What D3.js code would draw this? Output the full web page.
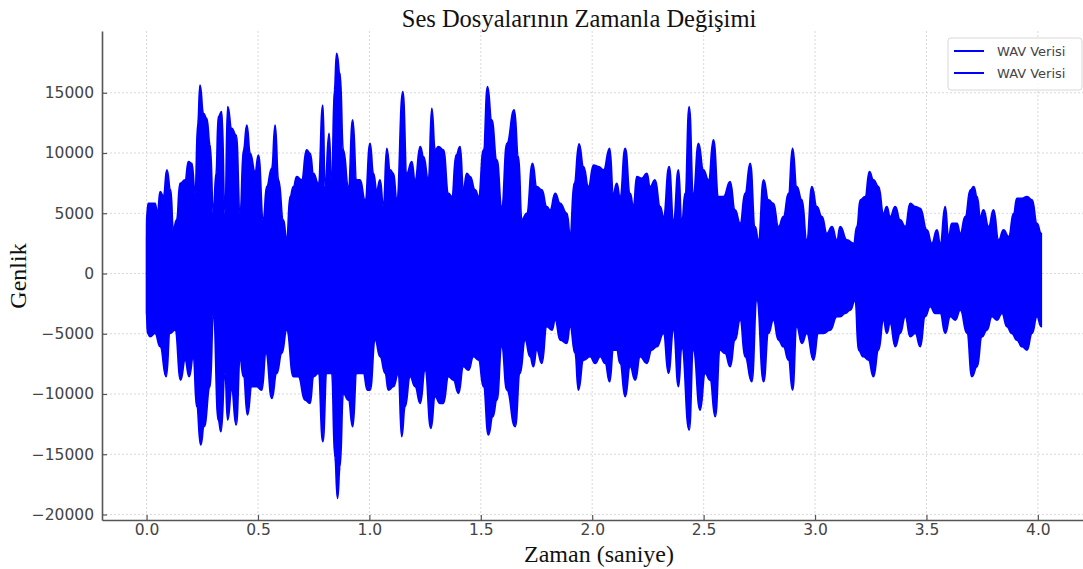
<!DOCTYPE html>
<html>
<head>
<meta charset="utf-8">
<script src="https://cdn.jsdelivr.net/npm/d3@7"></script>
<style>
  body { margin: 0; background: #fff; }
  svg { display: block; }
</style>
</head>
<body>
<svg width="1083" height="569"></svg>
<script>
// upper envelope of the waveform: [time (s), amplitude]
let upperEnv = [
  [0.000, 3060], [0.001, 5000], [0.008, 5820], [0.016, 5820], [0.038, 5820], [0.049, 5000],
  [0.061, 6790], [0.076, 6380], [0.091, 8590], [0.108, 6930], [0.120, 3610], [0.135, 4440],
  [0.150, 7480], [0.173, 7760], [0.188, 9280], [0.203, 9140], [0.218, 6650], [0.230, 12460],
  [0.240, 15640], [0.255, 13290], [0.270, 12880], [0.285, 10660], [0.300, 4990], [0.312, 8310],
  [0.322, 13010], [0.337, 13430], [0.352, 4990], [0.364, 13840], [0.382, 12040], [0.402, 11490],
  [0.420, 4990], [0.435, 10250], [0.450, 12320], [0.465, 9970], [0.487, 8450], [0.502, 9830],
  [0.524, 4440], [0.539, 7210], [0.562, 8730], [0.577, 12320], [0.592, 7760], [0.614, 4440],
  [0.629, 2780], [0.644, 6380], [0.659, 7210], [0.674, 8040], [0.696, 7760], [0.718, 10250],
  [0.734, 9970], [0.749, 8310], [0.771, 7480], [0.791, 13980], [0.801, 7210], [0.819, 11630],
  [0.831, 7210], [0.843, 15230], [0.853, 18270], [0.868, 16610], [0.883, 10250], [0.906, 7210],
  [0.925, 12740], [0.943, 7760], [0.958, 7760], [0.981, 6100], [1.003, 10800],
  [1.018, 8310], [1.033, 6930], [1.048, 7760], [1.063, 5550], [1.078, 10390], [1.093, 8590],
  [1.108, 8310], [1.123, 6100], [1.150, 15090], [1.168, 8310], [1.190, 9280], [1.205, 7760],
  [1.228, 10530], [1.243, 9700], [1.265, 7760], [1.280, 13710], [1.295, 10250], [1.310, 10530],
  [1.332, 10250], [1.355, 6650], [1.370, 6380], [1.389, 9830], [1.407, 10530], [1.422, 6930],
  [1.437, 8310], [1.452, 8040], [1.475, 6930], [1.490, 6380], [1.512, 10250], [1.530, 15500],
  [1.549, 12740], [1.572, 9420], [1.594, 5550], [1.617, 10800], [1.650, 13570], [1.669, 9700],
  [1.684, 4440], [1.706, 4990], [1.732, 9140], [1.751, 7210], [1.774, 6930], [1.796, 5550],
  [1.811, 5270], [1.834, 6650], [1.856, 5820], [1.886, 4990], [1.901, 3330], [1.919, 7480],
  [1.941, 10750], [1.961, 8870], [1.983, 7210], [2.006, 9000], [2.028, 8870], [2.051, 8590],
  [2.078, 10390], [2.095, 6650], [2.110, 7480], [2.125, 6380], [2.148, 10390], [2.170, 6650],
  [2.185, 5550], [2.200, 8040], [2.222, 7900], [2.245, 8310], [2.260, 7210], [2.282, 7760],
  [2.305, 5550], [2.320, 4720], [2.345, 8870], [2.365, 4440], [2.387, 8590], [2.402, 4160],
  [2.417, 6650], [2.435, 13840], [2.454, 6650], [2.477, 10800], [2.499, 8590], [2.522, 7760],
  [2.544, 11080], [2.567, 6380], [2.589, 6380], [2.619, 7620], [2.641, 5270], [2.664, 4160],
  [2.686, 6650], [2.709, 9140], [2.731, 3890], [2.746, 2780], [2.769, 7760], [2.791, 6100],
  [2.813, 5820], [2.836, 3890], [2.858, 4720], [2.881, 6650], [2.899, 10390], [2.918, 7210],
  [2.941, 6100], [2.963, 2780], [2.986, 7210], [3.008, 5550], [3.031, 4720], [3.053, 3330],
  [3.076, 3890], [3.098, 2780], [3.113, 3890], [3.143, 2780], [3.173, 2500], [3.188, 3890],
  [3.203, 6100], [3.225, 6380], [3.244, 8450], [3.262, 7760], [3.285, 7210], [3.307, 4990],
  [3.322, 5550], [3.337, 4720], [3.360, 5550], [3.382, 4440], [3.405, 3890], [3.427, 5820],
  [3.450, 5550], [3.472, 5410], [3.502, 3610], [3.524, 2500], [3.547, 3610], [3.562, 2500],
  [3.584, 5550], [3.599, 3060], [3.614, 4160], [3.637, 4160], [3.652, 3330], [3.674, 4720],
  [3.697, 6930], [3.712, 7210], [3.727, 6380], [3.742, 4720], [3.756, 5270], [3.779, 3890],
  [3.801, 5270], [3.824, 2780], [3.846, 3610], [3.869, 3060], [3.891, 4990], [3.906, 6240],
  [3.929, 6240], [3.951, 6380], [3.974, 6100], [3.996, 4160], [4.015, 3330]
];

// lower envelope of the waveform: [time (s), amplitude]
let lowerEnv = [
  [0.000, -3300], [0.004, -4960], [0.016, -5240], [0.038, -4960], [0.061, -6070], [0.088, -8560],
  [0.105, -4960], [0.128, -4690], [0.153, -8840], [0.173, -7180], [0.191, -8560], [0.210, -6900],
  [0.225, -11050], [0.243, -14230], [0.258, -12710], [0.285, -9390], [0.300, -3300], [0.322, -12160],
  [0.334, -13130], [0.352, -8280], [0.364, -12160], [0.382, -9670], [0.402, -12570], [0.420, -7180],
  [0.435, -8560], [0.453, -11740], [0.472, -9390], [0.494, -9390], [0.517, -9670], [0.536, -6620],
  [0.562, -10360], [0.584, -8280], [0.607, -6620], [0.629, -4690], [0.659, -8560], [0.681, -8560],
  [0.711, -10500], [0.734, -10770], [0.749, -8560], [0.771, -8280], [0.791, -13950], [0.809, -8280],
  [0.831, -8280], [0.845, -15200], [0.857, -18660], [0.868, -16030], [0.883, -9940], [0.906, -10500],
  [0.925, -12710], [0.943, -8280], [0.973, -8280], [0.991, -9670], [1.003, -9670], [1.026, -5520],
  [1.048, -6900], [1.071, -8280], [1.085, -9670], [1.108, -9390], [1.130, -8280], [1.145, -13540],
  [1.160, -11050], [1.183, -8560], [1.205, -9390], [1.228, -10770], [1.250, -8010], [1.276, -12850],
  [1.295, -10220], [1.317, -10770], [1.332, -10770], [1.355, -8560], [1.377, -8840], [1.400, -9940],
  [1.422, -7730], [1.445, -8010], [1.467, -6900], [1.490, -7180], [1.512, -9390], [1.534, -13400],
  [1.554, -11880], [1.572, -10500], [1.594, -6070], [1.617, -9670], [1.654, -12710], [1.676, -8280],
  [1.699, -5520], [1.721, -6900], [1.736, -7730], [1.751, -6350], [1.774, -7450], [1.796, -4410],
  [1.819, -4690], [1.834, -3860], [1.856, -5520], [1.886, -5790], [1.901, -4410], [1.923, -6620],
  [1.938, -9670], [1.961, -7180], [1.991, -6900], [2.013, -7450], [2.036, -6900], [2.058, -7450],
  [2.078, -8980], [2.095, -6350], [2.110, -6350], [2.125, -7450], [2.148, -10220], [2.170, -7730],
  [2.193, -8840], [2.215, -6900], [2.245, -7450], [2.267, -6350], [2.290, -6070], [2.320, -4960],
  [2.342, -8280], [2.365, -4690], [2.387, -9390], [2.402, -6070], [2.435, -12990], [2.454, -6350],
  [2.484, -11330], [2.507, -8280], [2.529, -8840], [2.552, -11880], [2.574, -6350], [2.596, -6620],
  [2.619, -7730], [2.641, -5520], [2.664, -3860], [2.686, -6900], [2.716, -8980], [2.739, -2200],
  [2.769, -8980], [2.791, -4960], [2.813, -3860], [2.836, -5520], [2.858, -6070], [2.881, -7180],
  [2.899, -9670], [2.918, -4410], [2.941, -5790], [2.963, -4960], [2.993, -7180], [3.015, -4960],
  [3.038, -4960], [3.068, -4690], [3.098, -3580], [3.113, -3580], [3.135, -3300], [3.158, -3030],
  [3.180, -2200], [3.195, -6350], [3.217, -6900], [3.240, -7180], [3.262, -8560], [3.285, -6350],
  [3.307, -3860], [3.322, -4960], [3.337, -4140], [3.360, -6070], [3.382, -4960], [3.405, -3580],
  [3.427, -5240], [3.450, -4960], [3.472, -6070], [3.494, -3580], [3.517, -2750], [3.539, -3300],
  [3.562, -3300], [3.584, -4960], [3.607, -3580], [3.629, -3860], [3.652, -3030], [3.682, -4960],
  [3.704, -8560], [3.727, -7730], [3.749, -5240], [3.771, -4690], [3.794, -3580], [3.816, -3860],
  [3.839, -3300], [3.861, -4410], [3.883, -4960], [3.906, -5520], [3.929, -6070], [3.951, -6350],
  [3.974, -4960], [3.996, -3580], [4.015, -4410]
];

let xTicks = [0, 0.5, 1.0, 1.5, 2.0, 2.5, 3.0, 3.5, 4.0];
let yTicks = [-20000, -15000, -10000, -5000, 0, 5000, 10000, 15000];
let legendLabels = ['WAV Verisi', 'WAV Verisi'];

let title = 'Ses Dosyalarının Zamanla Değişimi';
let xTitle = 'Zaman (saniye)';
let yTitle = 'Genlik';

let svg = d3.select('svg');
let marge = { top: 31, bottom: 520, left: 102, right: 1086 };
let color = '#0000ff';
let serif = '"Liberation Serif", "Times New Roman", serif';
let sans = '"DejaVu Sans", sans-serif';

let x = d3.scaleLinear().domain([-0.2, 4.216]).range([marge.left, marge.right]);
let y = d3.scaleLinear().domain([-20457, 20125]).range([marge.bottom, marge.top]);

// grid
let grid = svg.append('g');
grid.selectAll('.gx')
  .data(xTicks)
  .enter()
  .append('line')
  .attr('x1', function(d) { return x(d); })
  .attr('x2', function(d) { return x(d); })
  .attr('y1', marge.top)
  .attr('y2', marge.bottom)
  .attr('stroke', '#cfcfcf')
  .attr('stroke-width', 0.8)
  .attr('stroke-dasharray', '2,2');
grid.selectAll('.gy')
  .data(yTicks)
  .enter()
  .append('line')
  .attr('x1', marge.left)
  .attr('x2', marge.right)
  .attr('y1', function(d) { return y(d); })
  .attr('y2', function(d) { return y(d); })
  .attr('stroke', '#cfcfcf')
  .attr('stroke-width', 0.8)
  .attr('stroke-dasharray', '2,2');

// waveform, drawn as the area between each envelope and zero
let envArea = d3.area()
  .curve(d3.curveBumpX)
  .x(function(d) { return x(d[0]); })
  .y0(y(0))
  .y1(function(d) { return y(d[1]); });

let wave = svg.append('g');
[upperEnv, lowerEnv].forEach(function(env) {
  wave.append('path')
    .datum(env)
    .attr('d', envArea)
    .attr('fill', color)
    .attr('stroke', color)
    .attr('stroke-width', 1.8)
    .attr('stroke-linejoin', 'round');
});

// axes
let fmtY = function(d) { return d < 0 ? '\u2212' + Math.abs(d) : String(d); };
let xAxis = svg.append('g')
  .attr('transform', 'translate(0,' + marge.bottom + ')')
  .call(d3.axisBottom(x).tickValues(xTicks).tickFormat(d3.format('.1f')).tickSizeInner(-5).tickSizeOuter(0).tickPadding(4));
let yAxis = svg.append('g')
  .attr('transform', 'translate(' + marge.left + ',0)')
  .call(d3.axisLeft(y).tickValues(yTicks).tickFormat(fmtY).tickSizeInner(-5).tickSizeOuter(0).tickPadding(8));

[xAxis, yAxis].forEach(function(ax) {
  ax.select('.domain').attr('stroke', '#555').attr('stroke-width', 1.6);
  ax.selectAll('.tick line').attr('stroke', '#555').attr('stroke-width', 1.2);
  ax.selectAll('.tick text')
    .attr('fill', '#444')
    .style('font-family', sans)
    .style('font-size', '15.5px');
});

// titles
svg.append('text')
  .attr('x', 579)
  .attr('y', 27)
  .attr('text-anchor', 'middle')
  .style('font-family', serif)
  .style('font-size', '24.5px')
  .attr('fill', '#111')
  .text(title);
svg.append('text')
  .attr('x', 599)
  .attr('y', 561.5)
  .attr('text-anchor', 'middle')
  .style('font-family', serif)
  .style('font-size', '24px')
  .attr('fill', '#111')
  .text(xTitle);
svg.append('text')
  .attr('transform', 'translate(26,276) rotate(-90)')
  .attr('text-anchor', 'middle')
  .style('font-family', serif)
  .style('font-size', '24px')
  .attr('fill', '#111')
  .text(yTitle);

// legend
let legend = svg.append('g').attr('transform', 'translate(948,38)');
legend.append('rect')
  .attr('width', 134)
  .attr('height', 52)
  .attr('rx', 3)
  .attr('fill', '#fff')
  .attr('fill-opacity', 0.85)
  .attr('stroke', '#d8d8d8');
let items = legend.selectAll('.item')
  .data(legendLabels)
  .enter()
  .append('g')
  .attr('transform', function(d, i) { return 'translate(0,' + (13 + i * 22) + ')'; });
items.append('line')
  .attr('x1', 6)
  .attr('x2', 36)
  .attr('stroke', color)
  .attr('stroke-width', 2);
items.append('text')
  .attr('x', 49)
  .attr('dy', '0.35em')
  .attr('fill', '#444')
  .style('font-family', sans)
  .style('font-size', '13px')
  .text(function(d) { return d; });
</script>
</body>
</html>
